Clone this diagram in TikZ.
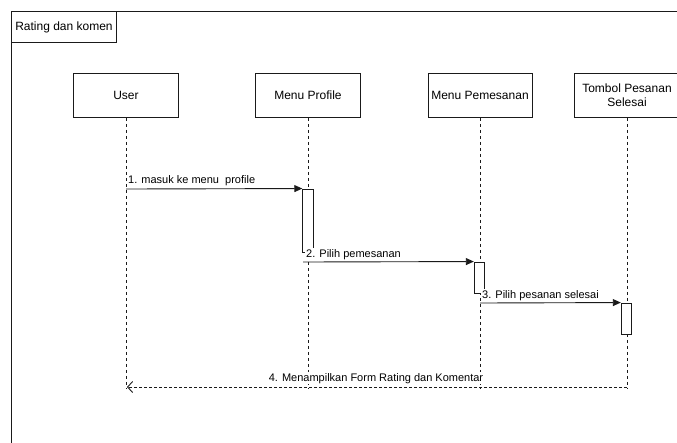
\documentclass[tikz,border=0pt]{standalone}
\usepackage{fontspec}
\setmainfont{Liberation Sans}
\usetikzlibrary{arrows.meta}
\definecolor{ink}{HTML}{1A1A1A}
\begin{document}
\begin{tikzpicture}[x=1pt,y=-1pt,
  headbox/.style={draw=ink,line width=0.9pt,fill=white,minimum width=105pt,minimum height=44pt,inner sep=1pt,align=center,font=\fontsize{12}{14}\selectfont,text=black},
  actbox/.style={draw=ink,line width=0.9pt,fill=white,minimum width=10.5pt,inner sep=0pt},
  lifeline/.style={draw=ink,line width=0.8pt,dash pattern=on 3pt off 3pt},
  msg/.style={draw=ink,line width=0.9pt,-{Triangle[length=8pt,width=7pt]}},
  retmsg/.style={draw=ink,line width=0.9pt,dash pattern=on 3pt off 2pt,-{Straight Barb[length=5pt,width=11pt]}},
  msglabel/.style={font=\fontsize{11}{13}\selectfont,text=black,fill=white,inner sep=1pt}
]
\useasboundingbox (0,0) rectangle (677,442);
\clip (0,0) rectangle (677,442);
% frame
\draw[ink,line width=0.9pt] (11,11) rectangle (700,470);
\node[draw=ink,line width=0.9pt,anchor=north west,minimum width=105pt,minimum height=31pt,inner sep=2pt,font=\fontsize{12}{14}\selectfont,text=black] (title) at (11,11) {Rating dan komen};
% lifeline ends
\coordinate (uEnd) at (126,388);
\coordinate (pEnd) at (308,388);
\coordinate (mEnd) at (480,388);
\coordinate (tEnd) at (627,388);
% heads
\node[headbox] (user) at (126,95.5) {User};
\node[headbox] (prof) at (308,95.5) {Menu Profile};
\node[headbox,minimum width=104pt] (pem) at (480,95.5) {Menu Pemesanan};
\node[headbox] (tomb) at (627,95.5) {Tombol Pesanan\\Selesai};
% lifelines
\draw[lifeline] (user.south) -- (uEnd);
\draw[lifeline] (prof.south) -- (pEnd);
\draw[lifeline] (pem.south) -- (mEnd);
\draw[lifeline] (tomb.south) -- (tEnd);
% activations
\node[actbox,minimum height=63pt] (act1) at (308,220.5) {};
\node[actbox,minimum height=31pt] (act2) at (479.5,277.5) {};
\node[actbox,minimum height=31pt] (act3) at (626.5,318.5) {};
% message start points
\coordinate (m1s) at (126,189);
\coordinate (m2s) at (303,262);
\coordinate (m3s) at (480,303);
\coordinate (m4s) at (627,387);
\coordinate (m4e) at (127,387);
% messages
\draw[msg] (m1s) -- (act1.north west);
\node[msglabel,anchor=south west] (l1) at (127,187) {1. masuk ke menu\ \ profile};
\draw[msg] (m2s) -- (act2.north west);
\node[msglabel,anchor=south west] (l2) at (305,260.5) {2. Pilih pemesanan};
\draw[msg] (m3s) -- (act3.north west);
\node[msglabel,anchor=south west] (l3) at (481,301.5) {3. Pilih pesanan selesai};
\draw[retmsg] (m4s) -- (m4e);
\node[msglabel,anchor=south] (l4) at (376,384.5) {4. Menampilkan Form Rating dan Komentar};
\end{tikzpicture}
\end{document}
